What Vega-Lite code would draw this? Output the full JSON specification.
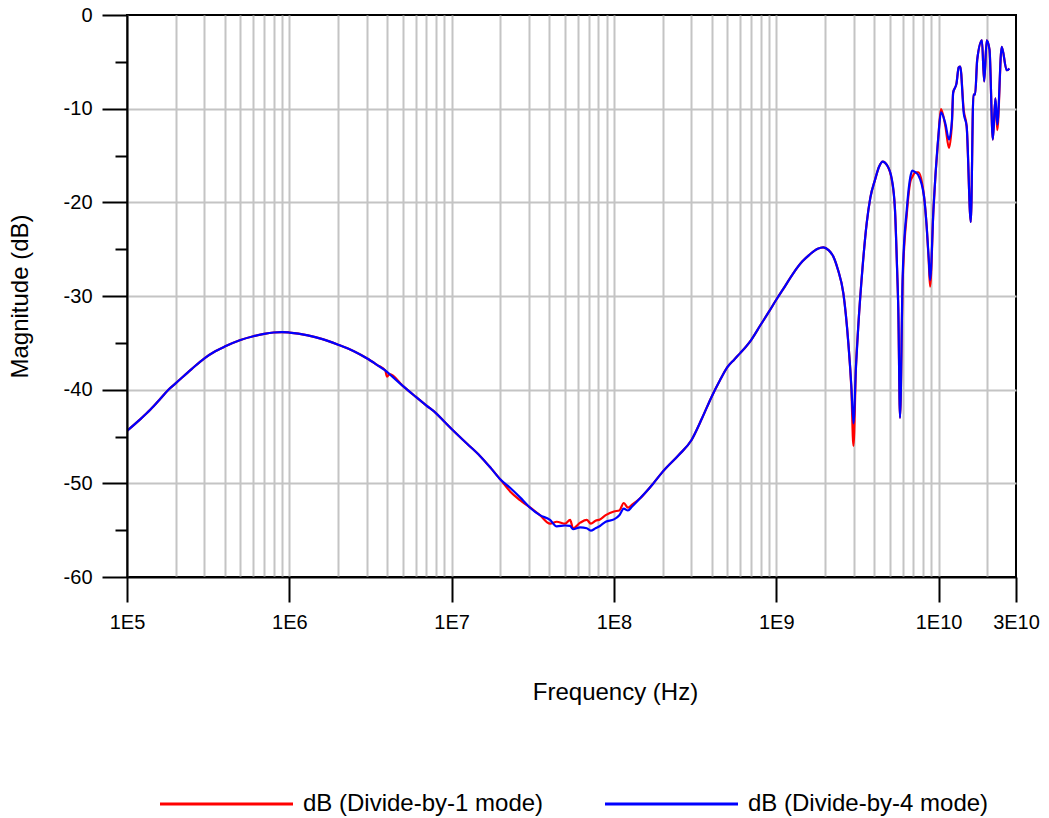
{
  "$schema": "https://vega.github.io/schema/vega-lite/v6.json",
  "width": 889,
  "height": 562,
  "autosize": {"type": "none"},
  "padding": {"left": 127, "top": 15, "right": 33, "bottom": 241},
  "background": "white",
  "config": {
    "font": "Liberation Sans",
    "view": {"stroke": "black", "strokeWidth": 2},
    "axis": {
      "domainColor": "black", "domainWidth": 2, "tickColor": "black", "tickWidth": 2,
      "labelColor": "black", "titleColor": "black", "labelFont": "Liberation Sans", "titleFont": "Liberation Sans",
      "labelFontSize": 20, "titleFontSize": 24, "titleFontWeight": "normal",
      "gridColor": "#c4c4c4", "gridWidth": 2, "gridOpacity": 1
    }
  },
  "data": {"values": [
    {"f": 1e5, "d1": -44.4, "d4": -44.4},
    {"f": 1.2e5, "d1": -43.2, "d4": -43.2},
    {"f": 1.4e5, "d1": -42.1, "d4": -42.1},
    {"f": 1.6e5, "d1": -41.0, "d4": -41.0},
    {"f": 1.8e5, "d1": -40.0, "d4": -40.0},
    {"f": 2e5, "d1": -39.3, "d4": -39.3},
    {"f": 2.5e5, "d1": -37.8, "d4": -37.8},
    {"f": 3e5, "d1": -36.65, "d4": -36.65},
    {"f": 3.5e5, "d1": -35.9, "d4": -35.9},
    {"f": 4e5, "d1": -35.4, "d4": -35.4},
    {"f": 5e5, "d1": -34.7, "d4": -34.7},
    {"f": 6e5, "d1": -34.3, "d4": -34.3},
    {"f": 7e5, "d1": -34.05, "d4": -34.05},
    {"f": 8e5, "d1": -33.9, "d4": -33.9},
    {"f": 9e5, "d1": -33.85, "d4": -33.85},
    {"f": 1e6, "d1": -33.9, "d4": -33.9},
    {"f": 1.3e6, "d1": -34.2, "d4": -34.2},
    {"f": 1.6e6, "d1": -34.6, "d4": -34.6},
    {"f": 2e6, "d1": -35.2, "d4": -35.2},
    {"f": 2.5e6, "d1": -35.9, "d4": -35.9},
    {"f": 3e6, "d1": -36.65, "d4": -36.65},
    {"f": 3.5e6, "d1": -37.4, "d4": -37.4},
    {"f": 3.9e6, "d1": -37.95, "d4": -37.95},
    {"f": 4e6, "d1": -38.6, "d4": -38.1},
    {"f": 4.15e6, "d1": -38.35, "d4": -38.35},
    {"f": 5e6, "d1": -39.6, "d4": -39.6},
    {"f": 6e6, "d1": -40.75, "d4": -40.75},
    {"f": 7e6, "d1": -41.7, "d4": -41.7},
    {"f": 8e6, "d1": -42.5, "d4": -42.5},
    {"f": 9e6, "d1": -43.4, "d4": -43.4},
    {"f": 1e7, "d1": -44.2, "d4": -44.2},
    {"f": 1.25e7, "d1": -45.8, "d4": -45.8},
    {"f": 1.5e7, "d1": -47.1, "d4": -47.1},
    {"f": 1.75e7, "d1": -48.4, "d4": -48.4},
    {"f": 2e7, "d1": -49.6, "d4": -49.6},
    {"f": 2.3e7, "d1": -50.9, "d4": -50.5},
    {"f": 2.64e7, "d1": -51.8, "d4": -51.5},
    {"f": 3e7, "d1": -52.5, "d4": -52.5},
    {"f": 3.5e7, "d1": -53.4, "d4": -53.4},
    {"f": 4.04e7, "d1": -54.3, "d4": -53.9},
    {"f": 4.44e7, "d1": -54.1, "d4": -54.6},
    {"f": 5e7, "d1": -54.3, "d4": -54.5},
    {"f": 5.37e7, "d1": -53.9, "d4": -54.55},
    {"f": 5.6e7, "d1": -54.8, "d4": -54.9},
    {"f": 6.2e7, "d1": -54.2, "d4": -54.7},
    {"f": 6.8e7, "d1": -53.9, "d4": -54.8},
    {"f": 7.2e7, "d1": -54.3, "d4": -55.05},
    {"f": 7.7e7, "d1": -54.0, "d4": -54.8},
    {"f": 8.2e7, "d1": -53.85, "d4": -54.55},
    {"f": 8.9e7, "d1": -53.4, "d4": -54.1},
    {"f": 1e8, "d1": -53.0, "d4": -53.85},
    {"f": 1.08e8, "d1": -52.9, "d4": -53.4},
    {"f": 1.15e8, "d1": -52.1, "d4": -52.7},
    {"f": 1.22e8, "d1": -52.6, "d4": -52.9},
    {"f": 1.29e8, "d1": -52.3, "d4": -52.5},
    {"f": 1.45e8, "d1": -51.6, "d4": -51.6},
    {"f": 1.6e8, "d1": -50.8, "d4": -50.8},
    {"f": 1.75e8, "d1": -50.0, "d4": -50.0},
    {"f": 2e8, "d1": -48.75, "d4": -48.75},
    {"f": 2.5e8, "d1": -47.0, "d4": -47.0},
    {"f": 3e8, "d1": -45.4, "d4": -45.4},
    {"f": 3.5e8, "d1": -43.0, "d4": -43.0},
    {"f": 4e8, "d1": -40.75, "d4": -40.75},
    {"f": 4.5e8, "d1": -39.0, "d4": -39.0},
    {"f": 5e8, "d1": -37.6, "d4": -37.6},
    {"f": 5.5e8, "d1": -36.8, "d4": -36.8},
    {"f": 6e8, "d1": -36.1, "d4": -36.1},
    {"f": 7e8, "d1": -34.7, "d4": -34.7},
    {"f": 8e8, "d1": -33.1, "d4": -33.1},
    {"f": 9e8, "d1": -31.7, "d4": -31.7},
    {"f": 1e9, "d1": -30.4, "d4": -30.4},
    {"f": 1.1e9, "d1": -29.3, "d4": -29.3},
    {"f": 1.27e9, "d1": -27.6, "d4": -27.6},
    {"f": 1.45e9, "d1": -26.3, "d4": -26.3},
    {"f": 1.6e9, "d1": -25.6, "d4": -25.6},
    {"f": 1.8e9, "d1": -24.95, "d4": -24.95},
    {"f": 1.95e9, "d1": -24.8, "d4": -24.8},
    {"f": 2.1e9, "d1": -25.1, "d4": -25.1},
    {"f": 2.25e9, "d1": -25.8, "d4": -25.8},
    {"f": 2.4e9, "d1": -27.2, "d4": -27.2},
    {"f": 2.59e9, "d1": -29.7, "d4": -29.7},
    {"f": 2.78e9, "d1": -35.0, "d4": -35.0},
    {"f": 2.9e9, "d1": -39.8, "d4": -39.5},
    {"f": 2.99e9, "d1": -46.0, "d4": -43.6},
    {"f": 3.1e9, "d1": -37.5, "d4": -37.5},
    {"f": 3.2e9, "d1": -33.3, "d4": -33.3},
    {"f": 3.4e9, "d1": -27.0, "d4": -27.0},
    {"f": 3.61e9, "d1": -22.2, "d4": -22.2},
    {"f": 3.8e9, "d1": -19.5, "d4": -19.5},
    {"f": 4.06e9, "d1": -17.6, "d4": -17.6},
    {"f": 4.3e9, "d1": -16.2, "d4": -16.2},
    {"f": 4.53e9, "d1": -15.65, "d4": -15.65},
    {"f": 4.8e9, "d1": -16.0, "d4": -16.0},
    {"f": 5.15e9, "d1": -17.6, "d4": -17.5},
    {"f": 5.39e9, "d1": -20.8, "d4": -20.8},
    {"f": 5.55e9, "d1": -27.0, "d4": -27.0},
    {"f": 5.65e9, "d1": -31.5, "d4": -31.5},
    {"f": 5.79e9, "d1": -43.0, "d4": -43.0},
    {"f": 6.01e9, "d1": -28.5, "d4": -27.9},
    {"f": 6.37e9, "d1": -21.3, "d4": -20.8},
    {"f": 6.7e9, "d1": -17.8, "d4": -17.3},
    {"f": 6.89e9, "d1": -17.3, "d4": -16.6},
    {"f": 7.2e9, "d1": -16.8, "d4": -16.8},
    {"f": 7.51e9, "d1": -16.8, "d4": -17.1},
    {"f": 8.14e9, "d1": -19.4, "d4": -19.4},
    {"f": 8.45e9, "d1": -22.6, "d4": -22.6},
    {"f": 8.7e9, "d1": -26.3, "d4": -26.0},
    {"f": 8.87e9, "d1": -29.0, "d4": -28.3},
    {"f": 9.3e9, "d1": -20.8, "d4": -20.8},
    {"f": 9.97e9, "d1": -13.0, "d4": -13.0},
    {"f": 1.035e10, "d1": -10.05, "d4": -10.4},
    {"f": 1.1e10, "d1": -11.8, "d4": -11.55},
    {"f": 1.16e10, "d1": -14.2, "d4": -13.3},
    {"f": 1.21e10, "d1": -11.4, "d4": -11.2},
    {"f": 1.23e10, "d1": -8.3, "d4": -8.3},
    {"f": 1.29e10, "d1": -7.3, "d4": -7.3},
    {"f": 1.33e10, "d1": -5.6, "d4": -5.6},
    {"f": 1.36e10, "d1": -5.5, "d4": -5.5},
    {"f": 1.43e10, "d1": -10.2, "d4": -10.5},
    {"f": 1.49e10, "d1": -11.9, "d4": -11.9},
    {"f": 1.58e10, "d1": -22.1, "d4": -22.1},
    {"f": 1.64e10, "d1": -8.5, "d4": -8.5},
    {"f": 1.68e10, "d1": -8.5, "d4": -8.5},
    {"f": 1.73e10, "d1": -4.8, "d4": -4.8},
    {"f": 1.85e10, "d1": -2.7, "d4": -2.7},
    {"f": 1.91e10, "d1": -7.1, "d4": -7.1},
    {"f": 1.98e10, "d1": -2.7, "d4": -2.7},
    {"f": 2.06e10, "d1": -3.7, "d4": -3.7},
    {"f": 2.16e10, "d1": -13.3, "d4": -13.3},
    {"f": 2.24e10, "d1": -8.9, "d4": -8.9},
    {"f": 2.3e10, "d1": -12.3, "d4": -11.7},
    {"f": 2.45e10, "d1": -3.4, "d4": -3.4},
    {"f": 2.63e10, "d1": -5.9, "d4": -5.9},
    {"f": 2.73e10, "d1": -5.7, "d4": -5.7}
  ]},
  "transform": [{"fold": ["d1", "d4"], "as": ["mode", "dB"]}],
  "layer": [
    {
      "mark": {"type": "line", "strokeWidth": 2.2, "clip": true, "interpolate": "monotone"},
      "encoding": {
        "x": {"field": "f", "type": "quantitative",
          "scale": {"type": "log", "domain": [100000, 30000000000], "nice": false},
          "axis": {"orient": "bottom", "values": [100000,200000,300000,400000,500000,600000,700000,800000,900000,1000000,2000000,3000000,4000000,5000000,6000000,7000000,8000000,9000000,10000000,20000000,30000000,40000000,50000000,60000000,70000000,80000000,90000000,100000000,200000000,300000000,400000000,500000000,600000000,700000000,800000000,900000000,1000000000,2000000000,3000000000,4000000000,5000000000,6000000000,7000000000,8000000000,9000000000,10000000000,20000000000],
            "grid": true, "ticks": false, "labels": false, "domain": false, "title": null, "zindex": 0}},
        "y": {"field": "dB", "type": "quantitative",
          "scale": {"domain": [-60, 0], "nice": false, "zero": false},
          "axis": {"orient": "left", "values": [-10, -20, -30, -40, -50], "grid": true, "ticks": false, "labels": false, "domain": false, "title": null, "zindex": 0}},
        "color": {"field": "mode", "type": "nominal",
          "scale": {"domain": ["d1", "d4"], "range": ["#ff0000", "#0000ff"]},
          "legend": {"orient": "none", "direction": "horizontal", "legendX": 31.5, "legendY": 721, "title": null,
            "symbolType": "stroke", "symbolSize": 17689, "symbolStrokeWidth": 3, "labelFontSize": 24, "labelFont": "Liberation Sans", "labelColor": "black",
            "labelOffset": 8.5, "columnPadding": 55, "labelLimit": 600, "padding": 0,
            "labelExpr": "datum.value == 'd1' ? 'dB (Divide-by-1 mode)' : 'dB (Divide-by-4 mode)'"}}
      }
    },
    {
      "mark": {"type": "point", "opacity": 0},
      "encoding": {
        "x": {"field": "f", "type": "quantitative",
          "scale": {"type": "log", "domain": [100000, 30000000000], "nice": false},
          "axis": {"orient": "bottom", "values": [100000, 1000000, 10000000, 100000000, 1000000000, 10000000000, 30000000000],
            "labelExpr": "datum.value > 20000000000 ? '3E10' : '1E' + round(log(datum.value) / LN10)",
            "grid": false, "tickSize": 25, "labelPadding": 10, "labelFlush": false, "labelOverlap": false, "domain": true,
            "title": "Frequency (Hz)", "titleX": 488, "titleY": 122, "titleAlign": "center", "titleBaseline": "alphabetic", "zindex": 1}},
        "y": {"field": "dB", "type": "quantitative",
          "scale": {"domain": [-60, 0], "nice": false, "zero": false},
          "axis": {"orient": "left", "values": [-60, -50, -40, -30, -20, -10, 0], "grid": false, "tickSize": 25, "labelPadding": 10,
            "labelExpr": "toString(datum.value)",
            "labelFlush": false, "labelOverlap": false, "domain": true,
            "title": "Magnitude (dB)", "titleX": -100, "titleY": 281, "titleAlign": "center", "titleBaseline": "alphabetic", "titleAngle": -90, "zindex": 1}}
      }
    },
    {
      "mark": {"type": "point", "opacity": 0},
      "encoding": {
        "x": {"field": "f", "type": "quantitative",
          "scale": {"type": "log", "domain": [100000, 30000000000], "nice": false}, "axis": null},
        "y": {"field": "dB", "type": "quantitative",
          "scale": {"domain": [-60, 0], "nice": false, "zero": false},
          "axis": {"orient": "left", "values": [-55, -45, -35, -25, -15, -5], "grid": false, "tickSize": 12, "labels": false, "domain": false, "title": null, "zindex": 1}}
      }
    }
  ],
  "resolve": {"axis": {"x": "independent", "y": "independent"}}
}
